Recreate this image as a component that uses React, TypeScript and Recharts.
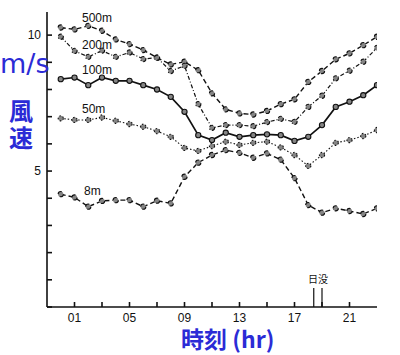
import React from 'react';
import { LineChart, Line, XAxis, YAxis, ReferenceLine } from 'recharts';

const hours = [0, 1, 2, 3, 4, 5, 6, 7, 8, 9, 10, 11, 12, 13, 14, 15, 16, 17, 18, 19, 20, 21, 22, 23];
const wind500 = [10.28, 10.21, 10.34, 10.16, 9.84, 9.67, 9.45, 9.17, 8.92, 9.02, 8.71, 7.86, 7.27, 7.12, 7.08, 7.21, 7.46, 7.64, 8.28, 8.68, 9.11, 9.33, 9.63, 9.94];
const wind200 = [9.94, 9.42, 9.2, 9.43, 9.2, 9.36, 9.12, 9.17, 8.68, 8.87, 7.46, 6.59, 6.69, 6.69, 6.65, 6.8, 6.92, 6.81, 7.36, 7.77, 8.41, 8.69, 9.02, 9.53];
const wind100 = [8.38, 8.44, 8.16, 8.44, 8.32, 8.32, 8.16, 8.0, 7.73, 7.18, 6.32, 6.14, 6.41, 6.26, 6.32, 6.35, 6.32, 6.11, 6.26, 6.69, 7.36, 7.55, 7.79, 8.16];
const wind50 = [6.94, 6.88, 6.88, 6.97, 6.85, 6.73, 6.63, 6.47, 6.26, 5.85, 5.74, 5.92, 6.08, 5.96, 6.04, 6.08, 5.87, 5.59, 5.19, 5.59, 6.04, 6.14, 6.29, 6.51];
const wind8 = [4.15, 4.03, 3.69, 3.9, 3.93, 3.93, 3.69, 3.91, 3.81, 4.79, 5.31, 5.59, 5.77, 5.67, 5.49, 5.65, 5.42, 4.74, 3.75, 3.47, 3.63, 3.53, 3.42, 3.63];

const xTicks = [1, 3, 5, 7, 9, 11, 13, 15, 17, 19, 21];
const yTicks = [0, 1, 2, 3, 4, 5, 6, 7, 8, 9, 10];
const sunsetLines = [18.4, 19.0];
const sunsetHeight = 0.7;

const data = hours.map((h, i) => ({
  h,
  w500: wind500[i],
  w200: wind200[i],
  w100: wind100[i],
  w50: wind50[i],
  w8: wind8[i],
}));

const xFmt = (v: number) => ((v - 1) % 4 === 0 ? String(v).padStart(2, '0') : '');
const yFmt = (v: number) => (v === 5 || v === 10 ? String(v) : '');
const blank = () => '';

const ink = '#111';
const dot = { r: 2.6, fill: '#858585', stroke: '#111', strokeWidth: 1.1 };
const tickFont = { fontFamily: 'Liberation Sans, Arial, sans-serif', fontSize: 12, fill: '#111' };
const blue = '#2b2bd6';

export default function App() {
  return (
    <div style={{ position: 'absolute', left: 0, top: 0, width: 400, height: 355, background: '#fff' }}>
      <LineChart width={400} height={355} data={data} margin={{ top: 12, right: 23, left: 0, bottom: 18 }}>
        <XAxis
          dataKey="h"
          type="number"
          domain={[-1, 23]}
          ticks={xTicks}
          tickFormatter={xFmt}
          tickSize={-5}
          tickMargin={11}
          height={30}
          stroke={ink}
          strokeWidth={1.6}
          tick={tickFont}
          allowDataOverflow
        />
        <XAxis
          xAxisId="top"
          orientation="top"
          type="number"
          domain={[-1, 23]}
          ticks={xTicks}
          tickFormatter={blank}
          tickSize={-5}
          height={0}
          stroke={ink}
          strokeWidth={1.2}
          allowDataOverflow
        />
        <YAxis
          type="number"
          domain={[0, 10.85]}
          ticks={yTicks}
          tickFormatter={yFmt}
          tickSize={-5}
          tickMargin={11}
          width={47}
          stroke={ink}
          strokeWidth={1.6}
          tick={tickFont}
          allowDataOverflow
        />
        <YAxis
          yAxisId="right"
          orientation="right"
          type="number"
          domain={[0, 10.85]}
          ticks={yTicks}
          tickFormatter={blank}
          tickSize={-5}
          width={0}
          stroke={ink}
          strokeWidth={1.6}
          allowDataOverflow
        />
        {sunsetLines.map((x) => (
          <ReferenceLine
            key={x}
            segment={[{ x, y: 0 }, { x, y: sunsetHeight }]}
            stroke={ink}
            strokeWidth={1.2}
          />
        ))}
        <Line dataKey="w500" stroke={ink} strokeWidth={1.4} strokeDasharray="5 3" dot={dot} isAnimationActive={false} />
        <Line dataKey="w200" stroke={ink} strokeWidth={1.2} strokeDasharray="4 2 1 2" dot={dot} isAnimationActive={false} />
        <Line dataKey="w100" stroke={ink} strokeWidth={1.7} dot={dot} isAnimationActive={false} />
        <Line dataKey="w50" stroke={ink} strokeWidth={1.1} strokeDasharray="1.5 2" dot={dot} isAnimationActive={false} />
        <Line dataKey="w8" stroke={ink} strokeWidth={1.4} strokeDasharray="5 3" dot={dot} isAnimationActive={false} />
      </LineChart>
      <svg width={400} height={355} style={{ position: 'absolute', left: 0, top: 0, pointerEvents: 'none' }}>
        <g fontFamily="Liberation Sans, Arial, sans-serif" fontSize={12} fill="#111">
          <text x={82} y={22}>500m</text>
          <text x={82} y={49}>200m</text>
          <text x={82} y={74}>100m</text>
          <text x={82} y={113}>50m</text>
          <text x={84} y={195}>8m</text>
        </g>
        <text x={318} y={283} textAnchor="middle" fontFamily="Noto Sans CJK JP" fontSize={10} fill="#111">日没</text>
        <text x={0} y={73} fontFamily="DejaVu Sans, sans-serif" fontSize={27} fill={blue}>m/s</text>
        <text
          x={21}
          y={99}
          style={{ writingMode: 'vertical-rl' }}
          fontFamily="Noto Sans CJK JP"
          fontWeight="bold"
          fontSize={24}
          letterSpacing={3}
          fill={blue}
        >
          風速
        </text>
        <text x={181} y={348} fontFamily="Noto Sans CJK JP" fontWeight="bold" fontSize={23} fill={blue}>時刻 (hr)</text>
      </svg>
    </div>
  );
}
